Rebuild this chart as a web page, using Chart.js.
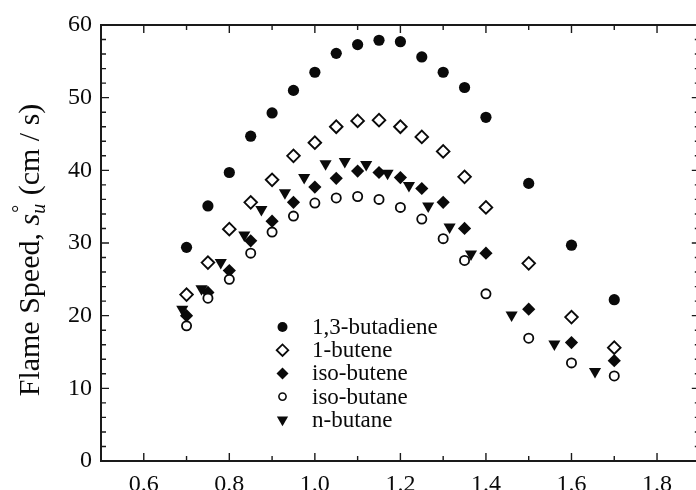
<!DOCTYPE html>
<html><head><meta charset="utf-8">
<script src="https://cdn.jsdelivr.net/npm/chart.js@4.4.0/dist/chart.umd.min.js"></script>
<style>
html,body{margin:0;padding:0;background:#fff;overflow:hidden;}
#wrap{position:relative;width:708px;height:490px;}
</style></head><body>
<div id="wrap"><canvas id="c" width="708" height="490"></canvas></div>
<script>
// ---- data (equivalence ratio vs laminar flame speed, cm/s) ----
const phiStd = [0.70,0.75,0.80,0.85,0.90,0.95,1.00,1.05,1.10,1.15,1.20,1.25,1.30,1.35,1.40,1.50,1.60,1.70];
const butadiene13 = [29.4,35.1,39.7,44.7,47.9,51.0,53.5,56.1,57.3,57.9,57.7,55.6,53.5,51.4,47.3,38.2,29.7,22.2];
const butene1 = [22.9,27.3,31.9,35.6,38.7,42.0,43.8,46.0,46.8,46.9,46.0,44.6,42.6,39.1,34.9,27.2,19.8,15.6];
const isoButene = [20.0,23.2,26.2,30.3,33.0,35.6,37.7,38.9,39.9,39.7,39.0,37.5,35.6,32.0,28.6,20.9,16.3,13.8];
const isoButane = [18.6,22.4,25.0,28.6,31.5,33.7,35.5,36.2,36.4,36.0,34.9,33.3,30.6,27.6,23.0,16.9,13.5,11.7];
const phiNButane = [0.69,0.735,0.78,0.835,0.875,0.93,0.975,1.025,1.07,1.12,1.17,1.22,1.265,1.315,1.365,1.46,1.56,1.655];
const nButane = [20.9,23.7,27.3,31.1,34.6,36.9,39.0,40.9,41.2,40.8,39.6,37.9,35.1,32.2,28.5,20.1,16.1,12.3];
const seriesNames = ["1,3-butadiene","1-butene","iso-butene","iso-butane","n-butane"];
const xTickValues = [0.6,0.8,1.0,1.2,1.4,1.6,1.8];
const yTickValues = [0,10,20,30,40,50,60];

const pts = (xs, ys) => xs.map((x,i)=>({x:x, y:ys[i]}));
const INK = '#0a0a0a';
const SERIF = '"Liberation Serif","DejaVu Serif",serif';

const datasets = [
  {label: seriesNames[0], data: pts(phiStd, butadiene13), pointStyle:'circle', pointRadius:5.6, backgroundColor:INK, borderColor:INK, borderWidth:0},
  {label: seriesNames[1], data: pts(phiStd, butene1), pointStyle:'rectRot', pointRadius:6.3, backgroundColor:'#fff', borderColor:INK, borderWidth:1.9},
  {label: seriesNames[3], data: pts(phiStd, isoButane), pointStyle:'circle', pointRadius:4.6, backgroundColor:'#fff', borderColor:INK, borderWidth:1.8},
  {label: seriesNames[4], data: pts(phiNButane, nButane), pointStyle:'triangle', pointRotation:180, pointRadius:7, backgroundColor:INK, borderColor:INK, borderWidth:0},
  {label: seriesNames[2], data: pts(phiStd, isoButene), pointStyle:'rectRot', pointRadius:6.6, backgroundColor:INK, borderColor:INK, borderWidth:0}
];
datasets.forEach(d=>{ d.showLine=false; d.pointHoverRadius=d.pointRadius; });

// legend entries in original order
const legendStyles = [
  {pointStyle:'circle', radius:5, fill:INK, bw:0},
  {pointStyle:'rectRot', radius:5.8, fill:'#fff', bw:1.8},
  {pointStyle:'rectRot', radius:6, fill:INK, bw:0},
  {pointStyle:'circle', radius:3.6, fill:'#fff', bw:1.6},
  {pointStyle:'triangle', radius:6.5, fill:INK, bw:0, rotation:180}
];

const framePlugin = {
  id:'frame',
  afterDatasetsDraw(chart){
    const {ctx, chartArea:a, scales:{x, y}} = chart;
    ctx.save();
    ctx.strokeStyle = '#1a1a1a';
    ctx.lineWidth = 2;
    ctx.strokeRect(a.left, a.top, a.right - a.left, a.bottom - a.top);
    ctx.lineWidth = 1.4;
    ctx.beginPath();
    for (let i = 5; i <= 19; i++) {
      const v = i / 10;
      const px = x.getPixelForValue(v);
      const len = (i % 2 === 0) ? 8 : 5;
      ctx.moveTo(px, a.bottom); ctx.lineTo(px, a.bottom - len);
      ctx.moveTo(px, a.top); ctx.lineTo(px, a.top + len);
    }
    for (let v = 0; v <= 60; v += 2) {
      const py = y.getPixelForValue(v);
      const len = (v % 10 === 0) ? 8 : 5;
      ctx.moveTo(a.left, py); ctx.lineTo(a.left + len, py);
      ctx.moveTo(a.right, py); ctx.lineTo(a.right - len, py);
    }
    ctx.stroke();

    // legend inside plot
    const lx = 282.5, tx = 312, y0 = 327, dy = 23.2;
    ctx.font = '23px ' + SERIF;
    ctx.textBaseline = 'middle';
    ctx.textAlign = 'left';
    seriesNames.forEach((name, i) => {
      const st = legendStyles[i];
      const yy = y0 + i * dy;
      ctx.fillStyle = st.fill;
      ctx.strokeStyle = INK;
      ctx.lineWidth = st.bw;
      Chart.helpers.drawPoint(ctx, {pointStyle: st.pointStyle, radius: st.radius, rotation: st.rotation || 0, borderWidth: st.bw}, lx, yy);
      ctx.fillStyle = INK;
      ctx.fillText(name, tx, yy + 1);
    });

    // y-axis title with italic s, subscript u, superscript degree
    ctx.save();
    ctx.translate(39, 250);
    ctx.rotate(-Math.PI / 2);
    ctx.fillStyle = INK;
    ctx.textBaseline = 'alphabetic';
    const big = '30px ' + SERIF, ital = 'italic 30px ' + SERIF, small = 'italic 20px ' + SERIF, deg = '20px ' + SERIF;
    const p1 = 'Flame Speed, ', p3 = ' (cm / s)';
    ctx.font = big; const w1 = ctx.measureText(p1).width, w3 = ctx.measureText(p3).width;
    ctx.font = ital; const ws = ctx.measureText('s').width;
    ctx.font = small; const wu = ctx.measureText('u').width;
    ctx.font = deg; const wd = ctx.measureText('\u00B0').width;
    const wsub = Math.max(wu, wd) + 1;
    const total = w1 + ws + wsub + w3;
    let cx = -total / 2;
    ctx.font = big; ctx.fillText(p1, cx, 0); cx += w1;
    ctx.font = ital; ctx.fillText('s', cx, 0); cx += ws;
    ctx.font = small; ctx.fillText('u', cx, 6);
    ctx.font = deg; ctx.fillText('\u00B0', cx + 1, -13);
    cx += wsub;
    ctx.font = big; ctx.fillText(p3, cx, 0);
    ctx.restore();

    ctx.restore();
  }
};

new Chart(document.getElementById('c'), {
  type: 'scatter',
  data: {datasets},
  options: {
    responsive: false,
    animation: false,
    devicePixelRatio: 1,
    layout: {padding: {top: 25, right: 0, left: 0, bottom: 0}},
    plugins: {legend: {display: false}, tooltip: {enabled: false}},
    scales: {
      x: {
        type: 'linear', min: 0.5, max: 1.9,
        afterBuildTicks: s => { s.ticks = xTickValues.map(v => ({value: v})); },
        afterFit: s => { s.height = 29; s.paddingLeft = 0; s.paddingRight = 0; },
        grid: {display: false, drawTicks: false},
        border: {display: false},
        ticks: {padding: 9, color: INK, font: {family: SERIF, size: 24}, callback: v => Number(v).toFixed(1), maxRotation: 0, autoSkip: false}
      },
      y: {
        type: 'linear', min: 0, max: 60,
        afterBuildTicks: s => { s.ticks = yTickValues.map(v => ({value: v})); },
        afterFit: s => { s.width = 101; s.paddingTop = 0; s.paddingBottom = 0; },
        grid: {display: false, drawTicks: false},
        border: {display: false},
        ticks: {padding: 9, color: INK, font: {family: SERIF, size: 24}, autoSkip: false}
      }
    }
  },
  plugins: [framePlugin]
});
</script>
</body></html>
